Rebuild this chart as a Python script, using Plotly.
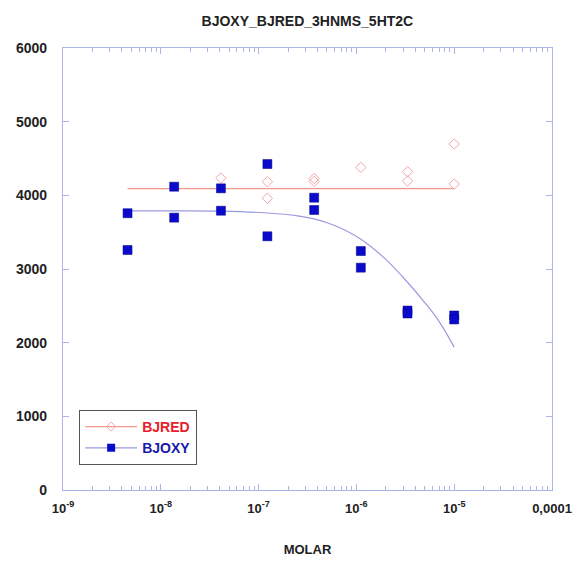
import plotly.graph_objects as go

# Concentrations (molar)
conc = [4.57e-9, 1.37e-8, 4.12e-8, 1.23e-7, 3.7e-7, 1.11e-6, 3.33e-6, 1.0e-5]

# BJOXY replicate values (two per concentration)
bjoxy_x = [4.57e-9, 4.57e-9, 1.37e-8, 1.37e-8, 4.12e-8, 4.12e-8, 1.23e-7, 1.23e-7,
           3.7e-7, 3.7e-7, 1.11e-6, 1.11e-6, 3.33e-6, 3.33e-6, 1.0e-5, 1.0e-5]
bjoxy_y = [3757, 3258, 4117, 3697, 4095, 3791, 4425, 3444,
           3968, 3801, 3244, 3018, 2436, 2396, 2369, 2315]

# BJRED visible replicate values
bjred_x = [4.12e-8, 1.23e-7, 1.23e-7, 3.7e-7, 3.7e-7, 1.11e-6, 3.33e-6, 3.33e-6, 1.0e-5, 1.0e-5]
bjred_y = [4235, 4185, 3960, 4230, 4190, 4380, 4321, 4195, 4697, 4154]

# Fitted curves
red_fit_x = [4.57e-9, 1.0e-5]
red_fit_y = [4090, 4090]

blue_fit_x = [4.57e-9, 1.37e-8, 4.12e-8, 1.23e-7, 2.5e-7, 3.7e-7, 6e-7, 1.11e-6,
              2e-6, 3.33e-6, 5e-6, 7e-6, 1.0e-5]
blue_fit_y = [3790, 3790, 3786, 3760, 3722, 3680, 3590, 3405,
              3130, 2820, 2545, 2290, 1940]

x_tickvals = [1e-9, 1e-8, 1e-7, 1e-6, 1e-5, 1e-4]
x_ticktext = ["<b>10<sup>-9</sup></b>", "<b>10<sup>-8</sup></b>", "<b>10<sup>-7</sup></b>",
              "<b>10<sup>-6</sup></b>", "<b>10<sup>-5</sup></b>", "<b>0,0001</b>"]
y_tickvals = [0, 1000, 2000, 3000, 4000, 5000, 6000]
y_ticktext = ["<b>0</b>", "<b>1000</b>", "<b>2000</b>", "<b>3000</b>", "<b>4000</b>",
              "<b>5000</b>", "<b>6000</b>"]

RED_LINE = "#f29a90"
RED_MARK = "#f4a6a6"
BLUE_LINE = "#9a9ae0"
BLUE_MARK = "#0a0acc"
FRAME = "#aab4e6"
FONT = "Liberation Sans, Arial, sans-serif"

fig = go.Figure()

fig.add_trace(go.Scatter(x=red_fit_x, y=red_fit_y, mode="lines",
                         line=dict(color=RED_LINE, width=1.3), showlegend=False,
                         hoverinfo="skip"))
fig.add_trace(go.Scatter(x=blue_fit_x, y=blue_fit_y, mode="lines",
                         line=dict(color=BLUE_LINE, width=1.2, shape="spline", smoothing=1.0),
                         showlegend=False, hoverinfo="skip"))
fig.add_trace(go.Scatter(x=bjred_x, y=bjred_y, mode="markers",
                         marker=dict(symbol="diamond-open", size=8, color=RED_MARK,
                                     line=dict(width=1, color=RED_MARK)),
                         showlegend=False))
fig.add_trace(go.Scatter(x=bjoxy_x, y=bjoxy_y, mode="markers",
                         marker=dict(symbol="square", size=9, color=BLUE_MARK,
                                     line=dict(width=0.5, color="#000080")),
                         showlegend=False))

# legend entries
fig.add_trace(go.Scatter(x=[None], y=[None], mode="lines+markers",
                         name="<b><span style='color:#e8202a'>BJRED</span></b>",
                         line=dict(color=RED_LINE, width=1.2),
                         marker=dict(symbol="diamond-open", size=7, color=RED_MARK)))
fig.add_trace(go.Scatter(x=[None], y=[None], mode="lines+markers",
                         name="<b><span style='color:#1a1aa8'>BJOXY</span></b>",
                         line=dict(color=BLUE_LINE, width=1.2),
                         marker=dict(symbol="square", size=8, color=BLUE_MARK)))

fig.update_layout(
    width=580, height=564,
    margin=dict(l=63, r=28, t=48, b=74, autoexpand=False),
    paper_bgcolor="white", plot_bgcolor="white",
    font=dict(family=FONT, size=13, color="#222222"),
    title=dict(text="<b>BJOXY_BJRED_3HNMS_5HT2C</b>", x=0.53, xanchor="center",
               y=0.962, yanchor="middle", font=dict(size=14, color="#222222")),
    legend=dict(x=0.033, y=0.181, xanchor="left", yanchor="top",
                bordercolor="#555555", borderwidth=1, bgcolor="white",
                font=dict(size=14, family=FONT), itemwidth=52,
                tracegroupgap=0),
    xaxis=dict(type="log", range=[-9, -4], tickvals=x_tickvals, ticktext=x_ticktext,
               showgrid=False, zeroline=False, showline=True, linecolor=FRAME,
               linewidth=1.2, mirror="ticks", ticks="inside", ticklen=6,
               tickcolor=FRAME, ticklabelstandoff=6, automargin=False,
               minor=dict(ticks="inside", ticklen=4, tickcolor=FRAME, dtick="D1",
                          showgrid=False),
               tickfont=dict(size=13, family=FONT),
               title=dict(text="<b>MOLAR</b>", font=dict(size=13), standoff=30)),
    yaxis=dict(range=[0, 6000], tickvals=y_tickvals, ticktext=y_ticktext,
               showgrid=False, zeroline=False, automargin=False,
               showline=True, linecolor=FRAME, linewidth=1.2, mirror="ticks",
               ticks="inside", ticklen=6, tickcolor=FRAME, ticklabelstandoff=12,
               tickfont=dict(size=14, family=FONT)),
)

fig.write_html("out.html")
